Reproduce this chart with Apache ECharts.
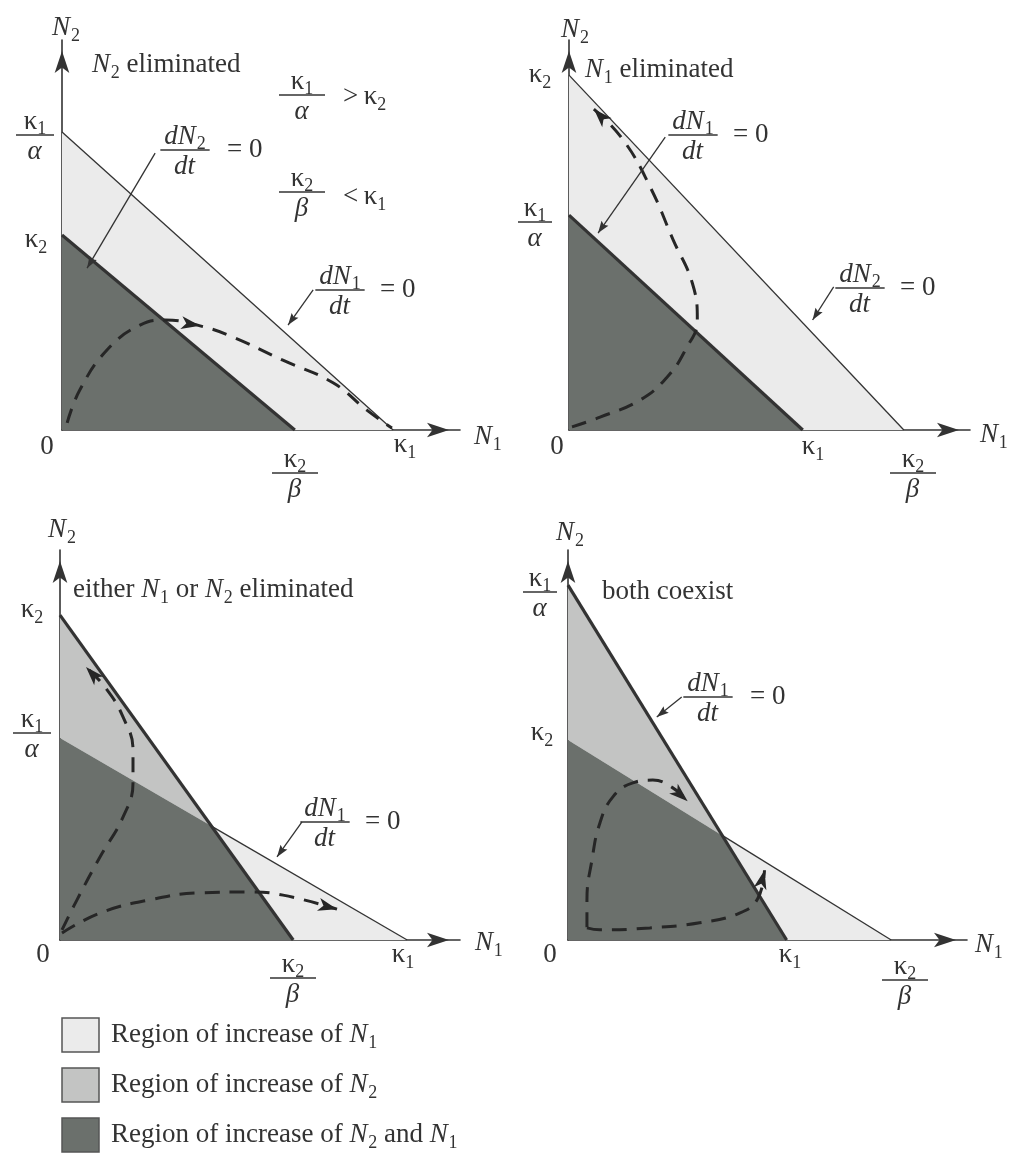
<!DOCTYPE html>
<html>
<head>
<meta charset="utf-8">
<script src="https://cdn.jsdelivr.net/npm/echarts@6/dist/echarts.min.js"></script>
<style>
  html, body { margin: 0; padding: 0; background: #ffffff; }
  #chart { width: 1021px; height: 1159px; }
</style>
</head>
<body>
<div id="chart"></div>
<script>
// Lotka–Volterra competition: isocline intercepts for the four cases (axis units 0–100)
const K1       = [83.2, 58.3, 86.8, 54.8];   // κ1 on the N1 axis   (dN1/dt = 0)
const K1_ALPHA = [76.4, 55.1, 51.8, 91.0];   // κ1/α on the N2 axis (dN1/dt = 0)
const K2       = [50.0, 91.0, 83.3, 51.3];   // κ2 on the N2 axis   (dN2/dt = 0)
const K2_BETA  = [58.5, 83.5, 58.3, 81.0];   // κ2/β on the N1 axis (dN2/dt = 0)

// Which isocline is drawn heavy, and whether the light one stops at the crossing
const HEAVY   = ['dN2', 'dN1', 'dN2', 'dN1'];
const PARTIAL = [false, false, true, true];

// Dashed population trajectories; the arrowhead sits on point `tip`
const TRAJ = [
  [ { pts: [[1.3,1.8],[4.5,10.3],[11.3,20.5],[19.6,26.9],[26,28.2],[34.7,26.7],[43.0,23.8],[55.5,17.9],[68.1,12.1],[76.6,5.1],[82.9,0.5]], tip: 5 } ],
  [ { pts: [[0.75,0.8],[7.75,3.3],[17.75,7.7],[24.5,13.6],[29,20.5],[32,28.2],[30.75,37.7],[26,48.7],[20.25,62.3],[13.5,74.4],[6.2,82.3]], tip: 10 } ],
  [ { pts: [[0.5,2.6],[4.25,10.3],[10,21.3],[15.75,31.5],[18.25,40.3],[18.25,48.7],[15.75,57.2],[11.5,64.5],[6.5,70.0]], tip: 8 },
    { pts: [[0.5,1.8],[10,6.9],[22.5,10.3],[35,12.1],[47.5,12.3],[55.75,11.5],[69.25,7.9]], tip: 6 } ],
  [ { pts: [[4.75,3.3],[4.75,10.3],[6,20.5],[8,30],[11.25,36.7],[16.25,40.3],[21.25,41],[26,39.2],[30,35.6]], tip: 8 },
    { pts: [[4.75,3.1],[8,2.6],[20.5,3.1],[33,4.4],[43,6.9],[47.5,10.5],[49.25,17.9]], tip: 6 } ]
];

// Leader arrows from the isocline labels to their lines: [from, to]
const LEADERS = [
  [ [[23.4,71.0],[6.3,41.5]], [[63.1,35.9],[56.8,26.9]] ],
  [ [[24.0,75.1],[7.25,50.5]], [[66.0,36.7],[60.75,28.2]] ],
  [ [[60.5,30.3],[54.25,21.3]] ],
  [ [[28.5,62.3],[22.25,57.2]] ]
];

const INK = '#333333';
const FILL = { light: '#ebebeb', mid: '#c3c4c3', dark: '#6b706c' };
const FONT = '"Liberation Serif", "Times New Roman", serif';
const FS = 27;

const GRIDS = [
  { left: 62,  top: 40,  width: 398, height: 390 },
  { left: 569, top: 40,  width: 401, height: 390 },
  { left: 60,  top: 550, width: 400, height: 390 },
  { left: 568, top: 550, width: 399, height: 390 }
];

// intersection of the two isoclines x/a + y/b = 1
function crossing(p) {
  const a1 = K1[p], b1 = K1_ALPHA[p], a2 = K2_BETA[p], b2 = K2[p];
  const det = (1 / a1) * (1 / b2) - (1 / b1) * (1 / a2);
  const x = ((1 / b2) - (1 / b1)) / det;
  const y = ((1 / a1) - (1 / a2)) / det;
  return [x, y];
}

function regions(p) {
  const k1 = K1[p], k1a = K1_ALPHA[p], k2 = K2[p], k2b = K2_BETA[p];
  if (p === 0) return [
    { kind: 'light', pts: [[0, k2], [0, k1a], [k1, 0], [k2b, 0]] },
    { kind: 'dark',  pts: [[0, 0], [0, k2], [k2b, 0]] }
  ];
  if (p === 1) return [
    { kind: 'light', pts: [[0, k1a], [0, k2], [k2b, 0], [k1, 0]] },
    { kind: 'dark',  pts: [[0, 0], [0, k1a], [k1, 0]] }
  ];
  const c = crossing(p);
  if (p === 2) return [
    { kind: 'mid',   pts: [[0, k1a], [0, k2], c] },
    { kind: 'light', pts: [c, [k1, 0], [k2b, 0]] },
    { kind: 'dark',  pts: [[0, 0], [0, k1a], c, [k2b, 0]] }
  ];
  return [
    { kind: 'mid',   pts: [[0, k2], [0, k1a], c] },
    { kind: 'light', pts: [c, [k2b, 0], [k1, 0]] },
    { kind: 'dark',  pts: [[0, 0], [0, k2], c, [k1, 0]] }
  ];
}

// ---- text with italics and subscripts ----
const measureCtx = document.createElement('canvas').getContext('2d');
function measure(text, size, italic) {
  measureCtx.font = (italic ? 'italic ' : '') + size + 'px ' + FONT;
  return measureCtx.measureText(text).width;
}
function layoutRun(tokens, size) {
  let x = 0;
  const items = [];
  tokens.forEach(tok => {
    let text, italic = false, sub = false;
    if (typeof tok === 'string') text = tok;
    else if (tok.i !== undefined) { text = tok.i; italic = true; }
    else { text = tok.s; sub = true; }
    const fs = sub ? Math.round(size * 0.66) : size;
    items.push({ text, fs, italic, x, dy: sub ? size * 0.3 : 0 });
    x += measure(text, fs, italic) + (italic ? size * 0.03 : 0);
  });
  return { items, width: x };
}
function runElements(tokens, cx, cy, align, size) {
  size = size || FS;
  const r = layoutRun(tokens, size);
  const x0 = align === 'center' ? cx - r.width / 2 : align === 'right' ? cx - r.width : cx;
  return r.items.map(it => ({
    type: 'text', silent: true,
    x: x0 + it.x, y: cy + it.dy,
    style: {
      text: it.text, fill: INK, fontFamily: FONT, fontSize: it.fs,
      fontStyle: it.italic ? 'italic' : 'normal',
      align: 'left', verticalAlign: 'middle'
    }
  }));
}
function fracElements(num, den, cx, barY, barW, size) {
  size = size || FS;
  const w = barW || Math.max(layoutRun(num, size).width, layoutRun(den, size).width) + 8;
  return [
    ...runElements(num, cx, barY - size * 0.5, 'center', size),
    { type: 'line', silent: true, shape: { x1: cx - w / 2, y1: barY, x2: cx + w / 2, y2: barY },
      style: { stroke: INK, lineWidth: 1.3 } },
    ...runElements(den, cx, barY + size * 0.62, 'center', size)
  ];
}

const k1 = ['κ', { s: '1' }], k2 = ['κ', { s: '2' }];
const N1 = [{ i: 'N' }, { s: '1' }], N2 = [{ i: 'N' }, { s: '2' }];
const ALPHA = [{ i: 'α' }], BETA = [{ i: 'β' }];
const dN1 = [{ i: 'dN' }, { s: '1' }], dN2 = [{ i: 'dN' }, { s: '2' }], DT = [{ i: 'dt' }];

// Label layout per panel, in pixels from the panel origin
const LABELS = [
  [
    { run: N2, dx: 4, dy: -402, align: 'center' },
    { run: N1, dx: 412, dy: 7, align: 'left' },
    { run: ['0'], dx: -15, dy: 17, align: 'center' },
    { frac: [k1, ALPHA], dx: -27, dy: -295, w: 38 },
    { run: k2, dx: -26, dy: -190, align: 'center' },
    { frac: [k2, BETA], dx: 233, dy: 43, w: 46 },
    { run: k1, dx: 343, dy: 15, align: 'center' },
    { run: [...N2, ' eliminated'], dx: 30, dy: -365, align: 'left' },
    { frac: [k1, ALPHA], dx: 240, dy: -335, w: 46 },
    { run: ['>\u2009', ...k2], dx: 281, dy: -333, align: 'left' },
    { frac: [k2, BETA], dx: 240, dy: -238, w: 46 },
    { run: ['<\u2009', ...k1], dx: 281, dy: -233, align: 'left' },
    { frac: [dN2, DT], dx: 123, dy: -280 },
    { run: ['= 0'], dx: 165, dy: -280, align: 'left' },
    { frac: [dN1, DT], dx: 278, dy: -140 },
    { run: ['= 0'], dx: 318, dy: -140, align: 'left' }
  ],
  [
    { run: N2, dx: 6, dy: -400, align: 'center' },
    { run: k2, dx: -29, dy: -355, align: 'center' },
    { run: [...N1, ' eliminated'], dx: 16, dy: -360, align: 'left' },
    { frac: [k1, ALPHA], dx: -34, dy: -208, w: 34 },
    { run: ['0'], dx: -12, dy: 17, align: 'center' },
    { run: k1, dx: 244, dy: 17, align: 'center' },
    { frac: [k2, BETA], dx: 344, dy: 43, w: 46 },
    { run: N1, dx: 411, dy: 5, align: 'left' },
    { frac: [dN1, DT], dx: 124, dy: -295 },
    { run: ['= 0'], dx: 164, dy: -295, align: 'left' },
    { frac: [dN2, DT], dx: 291, dy: -142 },
    { run: ['= 0'], dx: 331, dy: -142, align: 'left' }
  ],
  [
    { run: N2, dx: 2, dy: -410, align: 'center' },
    { run: ['either ', ...N1, ' or ', ...N2, ' eliminated'], dx: 13, dy: -350, align: 'left' },
    { run: k2, dx: -28, dy: -330, align: 'center' },
    { frac: [k1, ALPHA], dx: -28, dy: -207, w: 38 },
    { run: ['0'], dx: -17, dy: 15, align: 'center' },
    { frac: [k2, BETA], dx: 233, dy: 38, w: 46 },
    { run: k1, dx: 343, dy: 15, align: 'center' },
    { run: N1, dx: 415, dy: 3, align: 'left' },
    { frac: [dN1, DT], dx: 265, dy: -118 },
    { run: ['= 0'], dx: 305, dy: -118, align: 'left' }
  ],
  [
    { run: N2, dx: 2, dy: -407, align: 'center' },
    { frac: [k1, ALPHA], dx: -28, dy: -348, w: 34 },
    { run: ['both coexist'], dx: 34, dy: -348, align: 'left' },
    { run: k2, dx: -26, dy: -207, align: 'center' },
    { run: ['0'], dx: -18, dy: 15, align: 'center' },
    { run: k1, dx: 222, dy: 15, align: 'center' },
    { frac: [k2, BETA], dx: 337, dy: 40, w: 46 },
    { run: N1, dx: 407, dy: 5, align: 'left' },
    { frac: [dN1, DT], dx: 140, dy: -243 },
    { run: ['= 0'], dx: 182, dy: -243, align: 'left' }
  ]
];

function arrowHead(tip, from, len, half, notch, color) {
  const dx = tip[0] - from[0], dy = tip[1] - from[1];
  const d = Math.hypot(dx, dy) || 1;
  const ux = dx / d, uy = dy / d, vx = -uy, vy = ux;
  const bx = tip[0] - ux * len, by = tip[1] - uy * len;
  return {
    type: 'polygon', silent: true,
    shape: { points: [
      tip,
      [bx + vx * half, by + vy * half],
      [tip[0] - ux * (len - notch), tip[1] - uy * (len - notch)],
      [bx - vx * half, by - vy * half]
    ] },
    style: { fill: color }
  };
}

const grid = [], xAxis = [], yAxis = [], series = [];
GRIDS.forEach((g, p) => {
  grid.push(g);
  const axisBase = {
    gridIndex: p, type: 'value', min: 0, max: 100,
    axisLine: { show: true, onZero: false, symbol: ['none', 'arrow'], symbolSize: [11, 22], symbolOffset: [0, -11],
                lineStyle: { color: INK, width: 1.6 } },
    axisTick: { show: false }, axisLabel: { show: false }, splitLine: { show: false }
  };
  xAxis.push(Object.assign({}, axisBase));
  yAxis.push(Object.assign({}, axisBase));

  const regs = regions(p);
  series.push({
    type: 'custom', xAxisIndex: p, yAxisIndex: p, z: 1, silent: true, animation: false,
    data: regs.map(r => r.pts[0]),
    renderItem(params, api) {
      const r = regs[params.dataIndex];
      return { type: 'polygon', shape: { points: r.pts.map(pt => api.coord(pt)) }, style: { fill: FILL[r.kind] } };
    }
  });

  // isoclines
  const c = crossing(p);
  const n1Line = [[0, K1_ALPHA[p]], [K1[p], 0]];
  const n2Line = [[0, K2[p]], [K2_BETA[p], 0]];
  const heavy = HEAVY[p] === 'dN1' ? n1Line : n2Line;
  let light = HEAVY[p] === 'dN1' ? n2Line : n1Line;
  if (PARTIAL[p]) light = [c, light[1]];
  [[heavy, 3.2], [light, 1.3]].forEach(([pts, w]) => {
    series.push({
      type: 'line', xAxisIndex: p, yAxisIndex: p, z: 3, silent: true, animation: false,
      symbol: 'none', data: pts, lineStyle: { color: INK, width: w }
    });
  });

  // trajectories
  TRAJ[p].forEach(t => {
    series.push({
      type: 'line', xAxisIndex: p, yAxisIndex: p, z: 4, silent: true, animation: false,
      symbol: 'none', smooth: 0.45, data: t.pts,
      lineStyle: { color: '#262626', width: 3, type: [15, 10] }
    });
  });
  series.push({
    type: 'custom', xAxisIndex: p, yAxisIndex: p, z: 5, silent: true, animation: false,
    data: TRAJ[p].map(t => t.pts[t.tip]),
    renderItem(params, api) {
      const t = TRAJ[p][params.dataIndex];
      return arrowHead(api.coord(t.pts[t.tip]), api.coord(t.pts[t.tip - 1]), 19, 6.5, 5, '#262626');
    }
  });

  // leader arrows
  series.push({
    type: 'custom', xAxisIndex: p, yAxisIndex: p, z: 5, silent: true, animation: false,
    data: LEADERS[p].map(l => l[1]),
    renderItem(params, api) {
      const l = LEADERS[p][params.dataIndex];
      const a = api.coord(l[0]), b = api.coord(l[1]);
      return { type: 'group', children: [
        { type: 'line', shape: { x1: a[0], y1: a[1], x2: b[0], y2: b[1] }, style: { stroke: INK, lineWidth: 1.3 } },
        arrowHead(b, a, 12, 4.2, 2, INK)
      ] };
    }
  });

  // labels
  series.push({
    type: 'custom', xAxisIndex: p, yAxisIndex: p, z: 6, silent: true, animation: false,
    data: [[0, 0]],
    renderItem(params, api) {
      const o = api.coord([0, 0]);
      const children = [];
      LABELS[p].forEach(L => {
        if (L.frac) children.push(...fracElements(L.frac[0], L.frac[1], o[0] + L.dx, o[1] + L.dy, L.w));
        else children.push(...runElements(L.run, o[0] + L.dx, o[1] + L.dy, L.align));
      });
      return { type: 'group', children };
    }
  });
});

// legend for the three shaded regions
const LEGEND = [
  { kind: 'light', text: ['Region of increase of ', ...N1] },
  { kind: 'mid',   text: ['Region of increase of ', ...N2] },
  { kind: 'dark',  text: ['Region of increase of ', ...N2, ' and ', ...N1] }
];
const legendGraphics = [];
LEGEND.forEach((item, i) => {
  const y = 1018 + i * 50;
  legendGraphics.push({
    type: 'rect', shape: { x: 62, y: y, width: 37, height: 34 },
    style: { fill: FILL[item.kind], stroke: '#555', lineWidth: 1.5 }
  });
  legendGraphics.push(...runElements(item.text, 111, y + 17, 'left'));
});

const chart = echarts.init(document.getElementById('chart'), null, { renderer: 'canvas' });
chart.setOption({
  backgroundColor: '#ffffff',
  animation: false,
  grid, xAxis, yAxis, series,
  graphic: legendGraphics
});
</script>
</body>
</html>
